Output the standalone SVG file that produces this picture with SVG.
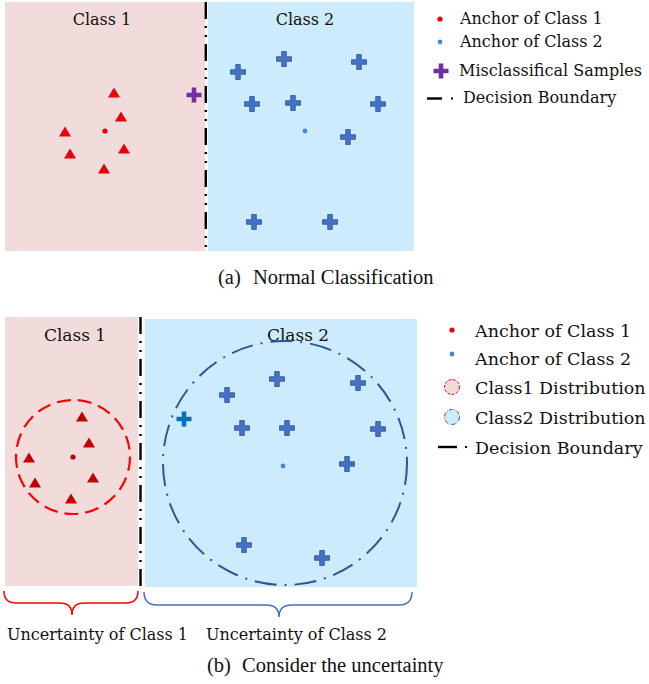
<svg xmlns="http://www.w3.org/2000/svg" xmlns:xlink="http://www.w3.org/1999/xlink" width="649" height="684" viewBox="0 0 649 684">
<style>
.lbl{font-family:"DejaVu Serif","Liberation Serif",serif;fill:#111;}
.cap{font-family:"Liberation Serif","Times New Roman",serif;fill:#111;font-size:20.5px;}
.pink{fill:#F2DCDB;}
.blue{fill:#CCEBFD;}
.bnd{stroke:#000;stroke-width:2.4;stroke-dasharray:17,7,2,7,2,7;fill:none;}
.tri1{fill:#E8000A;}
.tri2{fill:#C00000;}
</style>
<defs>
<path id="plus" d="M-2.3,-7.5H2.3V-2.3H7.5V2.3H2.3V7.5H-2.3V2.3H-7.5V-2.3H-2.3Z"/>
<g id="bplus"><use href="#plus" fill="#4472C4" stroke="#2F5597" stroke-width="0.8"/></g>
<polygon id="tri" points="0,-5.5 6,4.5 -6,4.5"/>
</defs>
<rect width="649" height="684" fill="#fff"/>

<!-- Panel (a) -->
<g id="panel-a">
<rect class="pink" x="5" y="2" width="200" height="249"/>
<rect class="blue" x="208" y="2" width="206" height="249"/>
<text class="lbl" x="102" y="25" font-size="16" text-anchor="middle">Class 1</text>
<text class="lbl" x="305" y="25" font-size="16" text-anchor="middle">Class 2</text>
<g class="tri1">
<use href="#tri" x="114" y="93"/>
<use href="#tri" x="121" y="117"/>
<use href="#tri" x="65" y="132"/>
<use href="#tri" x="70" y="154"/>
<use href="#tri" x="124" y="149"/>
<use href="#tri" x="104" y="169"/>
</g>
<circle cx="105" cy="131" r="2.6" fill="#E8000A"/>
<use href="#plus" x="194" y="95" fill="#7030A0"/>
<use href="#bplus" x="284" y="59"/>
<use href="#bplus" x="359" y="62"/>
<use href="#bplus" x="238" y="72"/>
<use href="#bplus" x="252" y="104"/>
<use href="#bplus" x="293" y="103"/>
<use href="#bplus" x="378" y="104"/>
<use href="#bplus" x="348" y="137"/>
<use href="#bplus" x="254" y="222"/>
<use href="#bplus" x="330" y="222"/>
<circle cx="305" cy="131" r="2.4" fill="#4A86D4"/>
<line class="bnd" x1="205.8" y1="2" x2="205.8" y2="251"/>
</g>

<g id="legend-a">
<circle cx="440" cy="19" r="2.6" fill="#E8000A"/>
<text class="lbl" x="460" y="24" font-size="16">Anchor of Class 1</text>
<circle cx="440" cy="42" r="2.4" fill="#4A86D4"/>
<text class="lbl" x="460" y="47" font-size="16">Anchor of Class 2</text>
<use href="#plus" x="441" y="71" fill="#7030A0"/>
<text class="lbl" x="459" y="76" font-size="16">Misclassifical Samples</text>
<line x1="427" y1="98.5" x2="442" y2="98.5" stroke="#000" stroke-width="2.4"/>
<rect x="451" y="97.5" width="2" height="2" fill="#000"/>
<text class="lbl" x="463" y="103" font-size="16">Decision Boundary</text>
</g>
<text class="cap" x="218" y="284">(a)</text>
<text class="cap" x="253" y="284">Normal Classification</text>

<!-- Panel (b) -->
<g id="panel-b">
<rect class="pink" x="5" y="317" width="133" height="269"/>
<rect class="blue" x="145" y="319" width="272" height="268"/>
<text class="lbl" x="75" y="341" font-size="17" text-anchor="middle">Class 1</text>
<text class="lbl" x="298" y="341" font-size="17" text-anchor="middle">Class 2</text>
<circle cx="73" cy="457" r="57" fill="none" stroke="#FF0000" stroke-width="2.2" stroke-dasharray="14,7"/>
<g class="tri2">
<use href="#tri" x="82" y="417"/>
<use href="#tri" x="89" y="443"/>
<use href="#tri" x="29" y="458"/>
<use href="#tri" x="35" y="483"/>
<use href="#tri" x="93" y="478"/>
<use href="#tri" x="71" y="499"/>
</g>
<circle cx="73" cy="457" r="2.6" fill="#C00000"/>
<circle cx="285" cy="463" r="122" fill="none" stroke="#2F5597" stroke-width="2" stroke-dasharray="22,8,2,8"/>
<use href="#bplus" x="277" y="379"/>
<use href="#bplus" x="358" y="383"/>
<use href="#bplus" x="227" y="395"/>
<use href="#plus" x="184" y="419" fill="#0070C0"/>
<use href="#bplus" x="242" y="428"/>
<use href="#bplus" x="287" y="428"/>
<use href="#bplus" x="378" y="429"/>
<use href="#bplus" x="347" y="464"/>
<use href="#bplus" x="244" y="545"/>
<use href="#bplus" x="322" y="558"/>
<circle cx="283" cy="466" r="2.4" fill="#4A86D4"/>
<line class="bnd" x1="140.5" y1="317" x2="140.5" y2="588"/>
</g>

<g id="braces">
<path d="M4,591 Q4,603 16,603 L60,603 Q72,603 72,615 Q72,603 84,603 L126,603 Q138,603 138,591" fill="none" stroke="#FF0000" stroke-width="1.5"/>
<path d="M144,592 Q144,605 157,605 L266,605 Q279,605 279,617 Q279,605 292,605 L399,605 Q412,605 412,592" fill="none" stroke="#4472C4" stroke-width="1.5"/>
</g>
<text class="lbl" x="7" y="640" font-size="16">Uncertainty of Class 1</text>
<text class="lbl" x="206" y="640" font-size="16">Uncertainty of Class 2</text>

<g id="legend-b">
<circle cx="452" cy="330" r="2.6" fill="#E8000A"/>
<text class="lbl" x="475" y="337" font-size="17.5">Anchor of Class 1</text>
<circle cx="452" cy="354" r="2.4" fill="#4A86D4"/>
<text class="lbl" x="475" y="365" font-size="17.5">Anchor of Class 2</text>
<circle cx="452" cy="387" r="7.5" fill="#F2DCDB" stroke="#FF0000" stroke-width="1" stroke-dasharray="3,1.5"/>
<text class="lbl" x="475" y="394" font-size="17.5">Class1 Distribution</text>
<circle cx="452" cy="417" r="7.5" fill="#CCEBFD" stroke="#2F5597" stroke-width="1" stroke-dasharray="4,1.5,1,1.5"/>
<text class="lbl" x="475" y="424" font-size="17.5">Class2 Distribution</text>
<line x1="438" y1="447" x2="457" y2="447" stroke="#000" stroke-width="2.4"/>
<rect x="465" y="446" width="2" height="2" fill="#000"/>
<text class="lbl" x="475" y="454" font-size="17.5">Decision Boundary</text>
</g>
<text class="cap" x="207" y="672">(b)</text>
<text class="cap" x="242" y="672">Consider the uncertainty</text>
</svg>
